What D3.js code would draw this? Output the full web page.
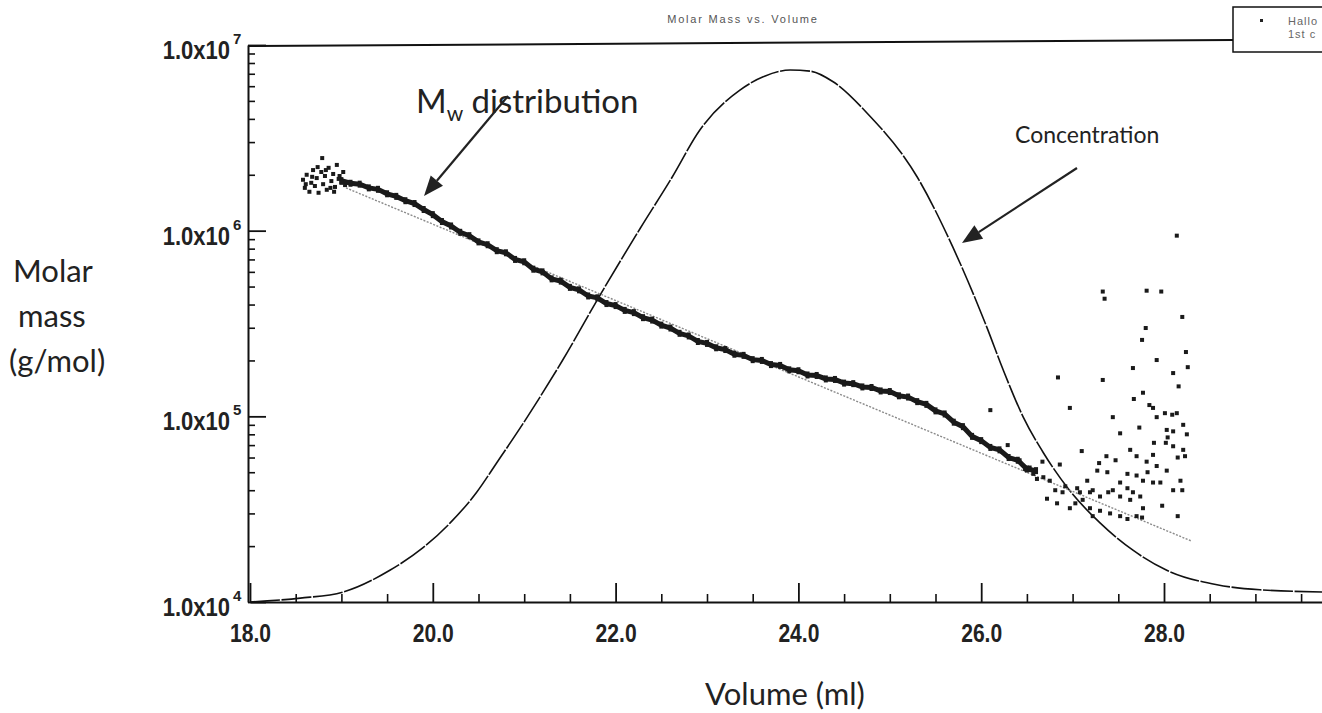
<!DOCTYPE html>
<html>
<head>
<meta charset="utf-8">
<script src="https://cdn.jsdelivr.net/npm/d3@7"></script>
<style>
  html, body { margin: 0; padding: 0; background: #fff; }
  svg { display: block; }
</style>
</head>
<body>
<div id="chart"></div>
<script>
// ---- data ----
const majorVolumeTicks = [18, 20, 22, 24, 26, 28];
const minorVolumeTicks = [18.5, 19, 19.5, 20.5, 21, 21.5, 22.5, 23, 23.5, 24.5, 25, 25.5, 26.5, 27, 27.5, 28.5, 29, 29.5];
const massDecades = [1e4, 1e5, 1e6, 1e7];
const massExponents = ["4", "5", "6", "7"];

// concentration trace (relative detector signal)
const concVolume = [18.0, 18.19, 18.55, 19.02, 19.53, 19.89, 20.19, 20.48, 20.70, 20.99, 21.42, 21.83, 22.27, 22.62, 22.92, 23.36, 23.63, 23.91, 24.13, 24.38, 24.75, 25.30, 25.69, 26.06, 26.24, 26.46, 26.68, 26.94, 27.30, 27.66, 28.03, 28.58, 29.05, 29.75];
const concSignal = [0.000, 0.002, 0.007, 0.018, 0.057, 0.097, 0.142, 0.197, 0.250, 0.321, 0.434, 0.551, 0.671, 0.763, 0.847, 0.919, 0.944, 0.955, 0.953, 0.934, 0.878, 0.763, 0.637, 0.494, 0.417, 0.332, 0.268, 0.206, 0.142, 0.093, 0.057, 0.031, 0.022, 0.018];

// Mw distribution, dense part
const mwVolume = [19.0, 19.1, 19.2, 19.3, 19.4, 19.5, 19.6, 19.7, 19.8, 19.9, 20.0, 20.1, 20.2, 20.3, 20.4, 20.5, 20.6, 20.7, 20.8, 20.9, 21.0, 21.1, 21.2, 21.3, 21.4, 21.5, 21.6, 21.7, 21.8, 21.9, 22.0, 22.1, 22.2, 22.3, 22.4, 22.5, 22.6, 22.7, 22.8, 22.9, 23.0, 23.1, 23.2, 23.3, 23.4, 23.5, 23.6, 23.7, 23.8, 23.9, 24.0, 24.1, 24.2, 24.3, 24.4, 24.5, 24.6, 24.7, 24.8, 24.9, 25.0, 25.1, 25.2, 25.3, 25.4, 25.5, 25.6, 25.7, 25.8, 25.9, 26.0, 26.1, 26.2, 26.3, 26.4, 26.5, 26.6];
const mwMass = [1.86e6, 1.80e6, 1.78e6, 1.70e6, 1.67e6, 1.58e6, 1.53e6, 1.45e6, 1.40e6, 1.30e6, 1.22e6, 1.12e6, 1.06e6, 9.8e5, 9.4e5, 8.7e5, 8.4e5, 7.8e5, 7.6e5, 7.0e5, 6.8e5, 6.2e5, 6.0e5, 5.5e5, 5.35e5, 4.95e5, 4.8e5, 4.45e5, 4.35e5, 4.05e5, 3.95e5, 3.72e5, 3.62e5, 3.40e5, 3.30e5, 3.10e5, 2.99e5, 2.80e5, 2.71e5, 2.53e5, 2.47e5, 2.34e5, 2.29e5, 2.16e5, 2.13e5, 2.02e5, 2.00e5, 1.90e5, 1.88e5, 1.78e5, 1.76e5, 1.67e5, 1.66e5, 1.59e5, 1.58e5, 1.51e5, 1.50e5, 1.44e5, 1.43e5, 1.37e5, 1.36e5, 1.29e5, 1.27e5, 1.20e5, 1.16e5, 1.07e5, 1.03e5, 9.3e4, 8.8e4, 7.8e4, 7.4e4, 6.8e4, 6.6e4, 6.0e4, 5.8e4, 5.2e4, 5.1e4];

// noisy start of the Mw trace
const startVolume = [18.58, 18.60, 18.62, 18.65, 18.67, 18.69, 18.71, 18.73, 18.75, 18.78, 18.79, 18.80, 18.82, 18.84, 18.86, 18.89, 18.91, 18.93, 18.95, 18.97, 19.00, 19.02, 19.04, 18.61, 18.74, 18.83, 18.92, 18.98, 18.68, 18.88];
const startMass = [1.88e6, 1.70e6, 2.00e6, 1.62e6, 1.81e6, 2.12e6, 1.74e6, 1.92e6, 1.60e6, 2.07e6, 2.46e6, 1.78e6, 1.97e6, 1.66e6, 2.18e6, 1.85e6, 2.02e6, 1.72e6, 2.26e6, 1.90e6, 1.81e6, 2.07e6, 1.76e6, 1.78e6, 2.20e6, 2.12e6, 1.62e6, 1.97e6, 1.95e6, 1.70e6];

// noisy tail of the Mw trace
const tailVolume = [27.33, 27.35, 27.81, 27.97, 28.20, 27.80, 27.76, 28.24, 27.92, 27.66, 28.26, 28.10, 26.84, 27.33, 28.16, 27.77, 27.67, 26.97, 27.84, 27.88,
  27.92, 28.01, 28.09, 28.14, 27.44, 28.21, 27.73, 27.52, 28.03, 28.10, 28.25, 27.89, 28.02, 28.04, 28.10, 28.21, 27.63, 27.70, 27.10, 28.23,
  28.15, 27.37, 27.47, 27.29, 27.81, 27.88, 28.03, 27.82, 27.92, 27.27, 27.38, 27.60, 27.70, 27.77, 27.88, 27.96, 28.18, 28.10, 28.20, 27.52,
  27.44, 27.60, 27.66, 27.74, 27.63, 27.52, 27.39, 27.30, 27.22, 27.16, 27.19, 27.11, 27.08, 27.05, 27.19, 27.30, 27.41, 27.52, 27.60, 27.70,
  27.77, 27.98, 28.15, 27.76, 27.22, 26.97, 27.03, 26.89, 26.83, 26.72, 26.81, 26.68, 26.86, 26.67, 26.57, 26.53, 26.42, 26.29, 26.10, 28.14,
  26.75, 26.92, 26.61, 26.48, 26.34];
const tailMass = [4.7e5, 4.3e5, 4.75e5, 4.7e5, 3.43e5, 2.99e5, 2.58e5, 2.22e5, 2.01e5, 1.82e5, 1.84e5, 1.71e5, 1.62e5, 1.57e5, 1.45e5, 1.34e5, 1.24e5, 1.11e5, 1.15e5, 1.11e5,
  9.9e4, 1.04e5, 1.02e5, 1.04e5, 9.9e4, 9.0e4, 8.7e4, 8.1e4, 8.45e4, 8.3e4, 8.0e4, 7.2e4, 7.2e4, 7.7e4, 6.9e4, 6.6e4, 6.6e4, 6.1e4, 6.5e4, 6.1e4,
  6.0e4, 6.1e4, 5.8e4, 5.6e4, 5.7e4, 6.2e4, 5.1e4, 5.0e4, 5.4e4, 5.1e4, 5.0e4, 4.9e4, 4.8e4, 4.5e4, 4.4e4, 4.4e4, 4.5e4, 4.0e4, 4.0e4, 4.4e4,
  4.0e4, 4.1e4, 3.9e4, 3.7e4, 3.55e4, 3.7e4, 3.9e4, 3.7e4, 4.0e4, 4.5e4, 3.9e4, 3.55e4, 3.9e4, 4.1e4, 3.2e4, 3.1e4, 3.0e4, 2.9e4, 2.8e4, 2.9e4,
  3.2e4, 3.3e4, 2.9e4, 2.85e4, 2.9e4, 3.2e4, 3.4e4, 3.9e4, 3.4e4, 3.6e4, 4.0e4, 4.7e4, 5.5e4, 5.7e4, 4.9e4, 5.3e4, 5.8e4, 7.0e4, 1.08e5, 9.4e5,
  4.5e4, 4.2e4, 4.6e4, 5.2e4, 5.9e4];

// straight-line fit through the Mw data
const fitVolume = [19.05, 28.3];
const fitMass = [1.70e6, 2.13e4];

// ---- layout ----
const W = 1322, H = 713;
const plot = {left: 248, right: 1233, top: 45, bottom: 602};

const svg = d3.select("#chart")
  .append("svg")
  .attr("width", W)
  .attr("height", H)
  .style("font-family", "'Liberation Sans', Arial, sans-serif");

// scales
const x = d3.scaleLinear()
  .domain([18, 30])
  .range([250, 250 + 12 * 91.4]);

const y = d3.scaleLog()
  .domain([1e4, 1e7])
  .range([plot.bottom, plot.top]);

const yConc = d3.scaleLinear()
  .domain([0, 1])
  .range([plot.bottom, plot.top]);

// title
svg.append("text")
  .attr("x", 743).attr("y", 23)
  .attr("text-anchor", "middle")
  .style("font-size", "11px")
  .style("letter-spacing", "1.8px")
  .style("fill", "#555")
  .text("Molar Mass vs. Volume");

// top frame line
svg.append("line")
  .attr("x1", plot.left).attr("x2", plot.right)
  .attr("y1", y(1e7) + 1).attr("y2", y(1e7) - 5)
  .attr("stroke", "#111").attr("stroke-width", 2);

// legend box (cut by the edge)
svg.append("rect")
  .attr("x", plot.right).attr("y", 7)
  .attr("width", 120).attr("height", 45)
  .attr("fill", "#fff").attr("stroke", "#111").attr("stroke-width", 1.5);
svg.append("rect")
  .attr("x", 1260).attr("y", 19).attr("width", 3).attr("height", 3)
  .attr("fill", "#222");
svg.append("text").attr("x", 1288).attr("y", 25)
  .style("font-size", "11px").style("letter-spacing", "1px").style("fill", "#666").text("Hallo");
svg.append("text").attr("x", 1288).attr("y", 38)
  .style("font-size", "11px").style("letter-spacing", "1px").style("fill", "#666").text("1st c");

// x axis: minor then major ticks, pointing up
svg.append("g")
  .attr("transform", "translate(0," + plot.bottom + ")")
  .call(d3.axisBottom(x).tickValues(minorVolumeTicks).tickSize(-8).tickSizeOuter(0).tickFormat(""))
  .call(g => g.select(".domain").remove())
  .call(g => g.selectAll("line").attr("stroke", "#111").attr("stroke-width", 1.6));

const xAxis = svg.append("g")
  .attr("transform", "translate(0," + plot.bottom + ")")
  .call(d3.axisBottom(x).tickValues(majorVolumeTicks).tickSize(-19).tickSizeOuter(0)
    .tickPadding(22).tickFormat(d3.format(".1f")));
xAxis.select(".domain").attr("stroke", "#111").attr("stroke-width", 2);
xAxis.selectAll("line").attr("stroke", "#111").attr("stroke-width", 1.8);
xAxis.selectAll("text")
  .attr("fill", "#222")
  .style("font-size", "25px")
  .style("font-weight", "bold")
  .attr("textLength", 41)
  .attr("lengthAdjust", "spacingAndGlyphs");

// y axis: log minor ticks, then decades
const minorMass = [];
massDecades.slice(0, 3).forEach(d => [2, 3, 4, 5, 6, 7, 8, 9].forEach(k => minorMass.push(d * k)));

svg.append("g")
  .attr("transform", "translate(" + plot.left + ",0)")
  .call(d3.axisLeft(y).tickValues(minorMass).tickSize(-7).tickSizeOuter(0).tickFormat(""))
  .call(g => g.select(".domain").remove())
  .call(g => g.selectAll("line").attr("stroke", "#111").attr("stroke-width", 1.6));

const yAxis = svg.append("g")
  .attr("transform", "translate(" + plot.left + ",0)")
  .call(d3.axisLeft(y).tickValues(massDecades).tickSize(-18).tickSizeOuter(0).tickFormat(""));
yAxis.select(".domain").attr("stroke", "#111").attr("stroke-width", 2);
yAxis.selectAll("line").attr("stroke", "#111").attr("stroke-width", 1.8);

// decade labels: condensed "1.0x10" plus a raised exponent
const yLabels = svg.append("g").attr("fill", "#222").style("font-weight", "bold");
yLabels.selectAll("text.base")
  .data(massDecades)
  .join("text")
  .attr("class", "base")
  .attr("transform", d => "translate(230," + (y(d) + 14) + ") scale(0.88,1)")
  .attr("text-anchor", "end")
  .style("font-size", "25px")
  .text("1.0x10");
yLabels.selectAll("text.exp")
  .data(massDecades)
  .join("text")
  .attr("class", "exp")
  .attr("x", 233)
  .attr("y", d => y(d) - 1)
  .style("font-size", "15px")
  .text((d, i) => massExponents[i]);

// concentration trace
const conc = concVolume.map((v, i) => ({v: v, c: concSignal[i]}));
svg.append("path")
  .datum(conc)
  .attr("fill", "none")
  .attr("stroke", "#111")
  .attr("stroke-width", 1.6)
  .attr("stroke-dasharray", "30,1.6")
  .attr("d", d3.line().x(d => x(d.v)).y(d => yConc(d.c)).curve(d3.curveMonotoneX));

// fit line
svg.append("line")
  .attr("x1", x(fitVolume[0])).attr("y1", y(fitMass[0]))
  .attr("x2", x(fitVolume[1])).attr("y2", y(fitMass[1]))
  .attr("stroke", "#8a8a8a")
  .attr("stroke-width", 1.4)
  .attr("stroke-dasharray", "2,1.5");

// Mw band
const band = mwVolume.map((v, i) => ({v: v, m: mwMass[i]}));
svg.append("path")
  .datum(band)
  .attr("fill", "none")
  .attr("stroke", "#1a1a1a")
  .attr("stroke-width", 5)
  .attr("d", d3.line().x(d => x(d.v)).y(d => y(d.m)));
svg.append("g")
  .selectAll("rect")
  .data(band)
  .join("rect")
  .attr("x", d => x(d.v) - 2)
  .attr("y", d => y(d.m) - 3.5)
  .attr("width", 4)
  .attr("height", 7)
  .attr("fill", "#1a1a1a");

// scattered points
const scatter = startVolume.map((v, i) => ({v: v, m: startMass[i]}))
  .concat(tailVolume.map((v, i) => ({v: v, m: tailMass[i]})));
svg.append("g")
  .selectAll("rect")
  .data(scatter)
  .join("rect")
  .attr("x", d => x(d.v) - 2)
  .attr("y", d => y(d.m) - 2)
  .attr("width", 4)
  .attr("height", 4)
  .attr("fill", "#1a1a1a");

// axis titles (overlay text)
const overlayFont = "Lato, 'Open Sans', sans-serif";
const yTitle = svg.append("text")
  .style("font-family", overlayFont)
  .style("font-size", "31px")
  .attr("fill", "#222");
yTitle.append("tspan").attr("x", 13).attr("y", 282).text("Molar");
yTitle.append("tspan").attr("x", 18).attr("y", 327).text("mass");
yTitle.append("tspan").attr("x", 9).attr("y", 372).text("(g/mol)");

svg.append("text")
  .attr("x", 785).attr("y", 705)
  .attr("text-anchor", "middle")
  .style("font-family", overlayFont)
  .style("font-size", "31px")
  .attr("fill", "#222")
  .text("Volume (ml)");

// annotations
const mwLabel = svg.append("text")
  .attr("x", 416).attr("y", 113)
  .style("font-family", overlayFont)
  .style("font-size", "33px")
  .attr("fill", "#222");
mwLabel.append("tspan").text("M");
mwLabel.append("tspan").attr("dy", 8).style("font-size", "21px").text("w");
mwLabel.append("tspan").attr("dy", -8).text(" distribution");

svg.append("text")
  .attr("x", 1015).attr("y", 143)
  .style("font-family", overlayFont)
  .style("font-size", "23px")
  .attr("fill", "#222")
  .text("Concentration");

function arrow(x1, y1, x2, y2) {
  const a = Math.atan2(y2 - y1, x2 - x1);
  const len = 20, half = 8;
  const bx = x2 - len * Math.cos(a), by = y2 - len * Math.sin(a);
  svg.append("line")
    .attr("x1", x1).attr("y1", y1).attr("x2", bx).attr("y2", by)
    .attr("stroke", "#222").attr("stroke-width", 2.2);
  svg.append("path")
    .attr("d", "M" + x2 + "," + y2 +
      "L" + (bx + half * Math.sin(a)) + "," + (by - half * Math.cos(a)) +
      "L" + (bx - half * Math.sin(a)) + "," + (by + half * Math.cos(a)) + "Z")
    .attr("fill", "#222");
}
arrow(508, 96, 424, 196);
arrow(1077, 168, 962, 243);
</script>
</body>
</html>
